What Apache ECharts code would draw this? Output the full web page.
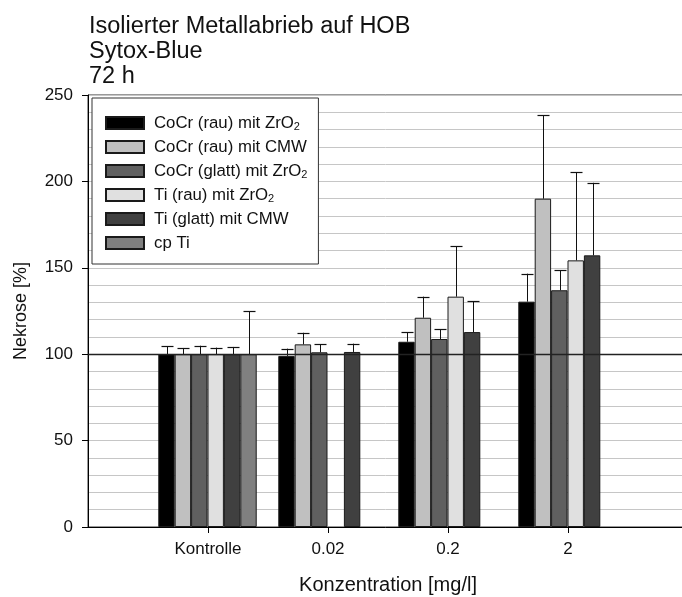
<!DOCTYPE html>
<html>
<head>
<meta charset="utf-8">
<style>
  html, body { margin: 0; padding: 0; background: #fff; overflow: hidden; }
  #chart { width: 682px; height: 597px; }
</style>
<script src="https://cdn.jsdelivr.net/npm/echarts@6/dist/echarts.min.js"></script>
</head>
<body>
<div id="chart"></div>
<script>
// Concentrations (empty slots at both ends give the outer margins of the axis)
const categories = ['Kontrolle', '0.02', '0.2', '2'];

// Series names (rich-text markup for the ZrO2 subscript)
const seriesNames = [
  'CoCr (rau) mit ZrO{s|2}',
  'CoCr (rau) mit CMW',
  'CoCr (glatt) mit ZrO{s|2}',
  'Ti (rau) mit ZrO{s|2}',
  'Ti (glatt) mit CMW',
  'cp Ti'
];

// Necrosis relative to control [%], one array per material
const cocrRauZrO2   = [100, 99.0, 107.2, 130.4];
const cocrRauCMW    = [100, 105.7, 121.1, 190.0];
const cocrGlattZrO2 = [100, 101.1, 108.8, 137.0];
const tiRauZrO2     = [100, null, 133.3, 154.3];
const tiGlattCMW    = [100, 101.3, 112.8, 157.2];
const cpTi          = [100, null, null, null];

// Standard deviations (drawn upward only)
const sdCocrRauZrO2   = [4.7, 4.2, 5.5, 16.2];
const sdCocrRauCMW    = [3.6, 6.7, 12.2, 48.2];
const sdCocrGlattZrO2 = [4.9, 4.6, 5.6, 11.7];
const sdTiRauZrO2     = [3.8, null, 29.3, 51.1];
const sdTiGlattCMW    = [4.2, 4.8, 17.8, 42.0];
const sdCpTi          = [25.0, null, null, null];

// Y axis ticks
const yTicks = [0, 50, 100, 150, 200, 250];
const referenceLevel = 100;

const values = [cocrRauZrO2, cocrRauCMW, cocrGlattZrO2, tiRauZrO2, tiGlattCMW, cpTi];
const errors = [sdCocrRauZrO2, sdCocrRauCMW, sdCocrGlattZrO2, sdTiRauZrO2, sdTiGlattCMW, sdCpTi];
const colors = ['#000000', '#c0c0c0', '#606060', '#e0e0e0', '#404040', '#808080'];

const FONT = "'Liberation Sans', Arial, sans-serif";
const BAR_FRAC = 0.1367;           // bar width as a share of one category step
const axisCats = [''].concat(categories, ['']);

const pad = arr => [null].concat(arr, [null]);

const series = [];
values.forEach((vals, i) => {
  series.push({
    name: seriesNames[i],
    type: 'bar',
    data: pad(vals),
    barWidth: (BAR_FRAC * 100) + '%',
    barGap: '0%',
    itemStyle: { color: colors[i], borderColor: '#1a1a1a', borderWidth: 1 },
    emphasis: { disabled: true },
    z: 2
  });
});

// Upper error bars, offset to sit on each bar of the group
values.forEach((vals, i) => {
  const data = [];
  vals.forEach((v, k) => {
    if (v != null && errors[i][k] != null) data.push([k + 1, v, v + errors[i][k]]);
  });
  series.push({
    type: 'custom',
    silent: true,
    z: 4,
    data: data,
    renderItem: function (params, api) {
      const band = api.size([1, 0])[0];
      const off = (i - 2.5) * band * BAR_FRAC;
      const base = api.coord([api.value(0), api.value(1)]);
      const top = api.coord([api.value(0), api.value(2)]);
      const x = Math.round(base[0] + off) + 0.5;
      const cap = band * 0.05;
      return {
        type: 'group',
        children: [
          { type: 'line', shape: { x1: x, y1: base[1], x2: x, y2: top[1] },
            style: { stroke: '#111', lineWidth: 1 } },
          { type: 'line', shape: { x1: x - cap, y1: Math.round(top[1]) + 0.5, x2: x + cap, y2: Math.round(top[1]) + 0.5 },
            style: { stroke: '#111', lineWidth: 1.2 } }
        ]
      };
    }
  });
});

// Reference line at control level
series.push({
  type: 'bar',
  data: [],
  silent: true,
  z: 5,
  markLine: {
    silent: true,
    symbol: 'none',
    label: { show: false },
    lineStyle: { color: '#222', width: 1.3, type: 'solid' },
    data: [{ yAxis: referenceLevel }]
  }
});

const chart = echarts.init(document.getElementById('chart'), null, { renderer: 'canvas' });
chart.setOption({
  animation: false,
  backgroundColor: '#fff',
  textStyle: { fontFamily: FONT },
  title: {
    text: 'Isolierter Metallabrieb auf HOB\nSytox-Blue\n72 h',
    left: 89,
    top: 14,
    padding: 0,
    textStyle: { fontFamily: FONT, fontSize: 23.5, fontWeight: 'normal', color: '#111', lineHeight: 25 }
  },
  legend: {
    orient: 'vertical',
    left: 92,
    top: 98,
    padding: [16, 11, 12, 13],
    backgroundColor: '#fff',
    borderColor: '#333',
    borderWidth: 1,
    itemWidth: 38,
    itemHeight: 12,
    itemGap: 6,
    icon: 'rect',
    selectedMode: false,
    data: seriesNames,
    textStyle: {
      fontFamily: FONT,
      fontSize: 16.8,
      color: '#111',
      lineHeight: 18,
      padding: [0, 0, 0, 5],
      rich: {
        s: { fontFamily: FONT, fontSize: 11, color: '#111', padding: [7, 0, 0, 0] }
      }
    }
  },
  grid: {
    left: 88,
    top: 95,
    right: -6,
    bottom: 70,
    outerBoundsMode: 'none',
    containLabel: false,
    show: true,
    borderColor: '#333',
    borderWidth: 1,
    backgroundColor: 'transparent'
  },
  xAxis: {
    type: 'category',
    data: axisCats,
    boundaryGap: false,
    name: 'Konzentration [mg/l]',
    nameLocation: 'middle',
    nameGap: 48,
    nameTextStyle: { fontFamily: FONT, fontSize: 20, color: '#111' },
    axisLine: { lineStyle: { color: '#000', width: 1 } },
    axisTick: {
      show: true,
      length: 6,
      interval: (idx) => idx > 0 && idx < axisCats.length - 1,
      lineStyle: { color: '#000' }
    },
    axisLabel: { interval: 0, margin: 14, fontFamily: FONT, fontSize: 17, color: '#111' },
    splitLine: { show: false }
  },
  yAxis: {
    type: 'value',
    min: yTicks[0],
    max: yTicks[yTicks.length - 1],
    interval: yTicks[1] - yTicks[0],
    name: 'Nekrose [%]',
    nameLocation: 'middle',
    nameGap: 58,
    nameTextStyle: { fontFamily: FONT, fontSize: 18, color: '#111' },
    axisLine: { show: true, lineStyle: { color: '#000', width: 1 } },
    axisTick: { show: true, inside: false, length: 6, lineStyle: { color: '#000' } },
    axisLabel: { margin: 15, fontFamily: FONT, fontSize: 17, color: '#111' },
    splitLine: { show: true, lineStyle: { color: '#c6c6c6', width: 1 } },
    minorTick: { show: false, splitNumber: 5 },
    minorSplitLine: { show: true, lineStyle: { color: '#c6c6c6', width: 1 } }
  },
  series: series
});
</script>
</body>
</html>
